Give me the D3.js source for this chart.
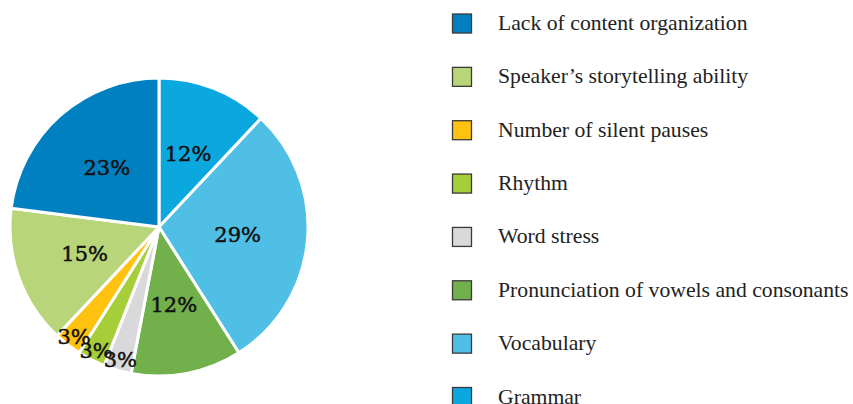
<!DOCTYPE html>
<html>
<head>
<meta charset="utf-8">
<script src="https://cdn.jsdelivr.net/npm/d3@7"></script>
<style>
  body { margin: 0; background: #fff; }
  svg { display: block; }
  .sliceLabel { font-family: "DejaVu Serif", serif; font-size: 21px; fill: #111; stroke: #111; stroke-width: 0.5px; }
  .legendText { font-family: "Liberation Serif", serif; font-size: 21.7px; fill: #222; }
</style>
</head>
<body>
<div id="chart"></div>
<script>
"use strict";

// Data - pie order, clockwise from 12 o'clock
const categories = [
  "Grammar",
  "Vocabulary",
  "Pronunciation of vowels and consonants",
  "Word stress",
  "Rhythm",
  "Number of silent pauses",
  "Speaker\u2019s storytelling ability",
  "Lack of content organization"
];
const percents = [12, 29, 12, 3, 3, 3, 15, 23];
const colors = ["#0ba7df", "#50bfe6", "#72b04b", "#d9d9db", "#a6ce39", "#ffc20e", "#b8d57a", "#0080c0"];

// legend lists categories in reverse order
const legendOrder = categories.slice().reverse();

const width = 853, height = 404;
const cx = 159, cy = 227, radius = 149;

const svg = d3.select("#chart")
  .append("svg")
  .attr("width", width)
  .attr("height", height);

const data = categories.map((c, i) => ({name: c, value: percents[i], color: colors[i]}));

const pie = d3.pie().sort(null).value(d => d.value);
const arc = d3.arc().innerRadius(0).outerRadius(radius);

const g = svg.append("g").attr("transform", `translate(${cx},${cy})`);

g.selectAll(".slice")
  .data(pie(data))
  .enter()
  .append("path")
  .attr("class", "slice")
  .attr("d", arc)
  .attr("fill", d => d.data.color)
  .attr("stroke", "#fff")
  .attr("stroke-width", 3)
  .attr("stroke-linejoin", "round");

// big slices get inside label, thin ones near the rim
const innerLabel = d3.arc().innerRadius(radius * 0.53).outerRadius(radius * 0.53);
const outerLabel = d3.arc().innerRadius(radius * 0.93).outerRadius(radius * 0.93);

g.selectAll(".sliceLabel")
  .data(pie(data))
  .enter()
  .append("text")
  .attr("class", "sliceLabel")
  .attr("transform", d => `translate(${(d.data.value < 5 ? outerLabel : innerLabel).centroid(d)})`)
  .attr("text-anchor", "middle")
  .attr("dy", "0.35em")
  .text(d => d.data.value + "%");

// Legend
const colorOf = d3.scaleOrdinal().domain(categories).range(colors);
const legendY = d3.scalePoint().domain(legendOrder).range([23.5, 397]);

const legend = svg.selectAll(".legendItem")
  .data(legendOrder)
  .enter()
  .append("g")
  .attr("class", "legendItem")
  .attr("transform", d => `translate(452,${legendY(d)})`);

legend.append("rect")
  .attr("x", 0.5)
  .attr("y", -9.5)
  .attr("width", 19)
  .attr("height", 19)
  .attr("fill", d => colorOf(d))
  .attr("stroke", "#3a3a3a")
  .attr("stroke-width", 1.3);

legend.append("text")
  .attr("class", "legendText")
  .attr("x", 46)
  .attr("dy", "0.3em")
  .text(d => d);
</script>
</body>
</html>
